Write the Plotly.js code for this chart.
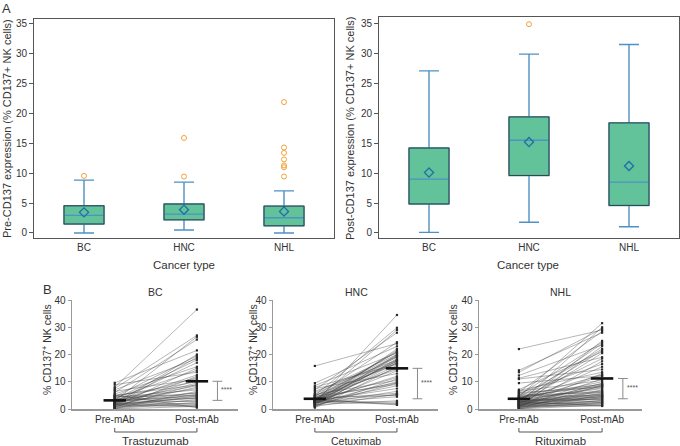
<!DOCTYPE html>
<html>
<head>
<meta charset="utf-8">
<script src="https://cdn.plot.ly/plotly-3.0.1.min.js"></script>
<style>
	html, body { margin:0; padding:0; background:#fff; }
	#chart { width:680px; height:446px; }
</style>
</head>
<body>
<div id="chart"></div>
<script>
(function () {

	'use strict';

	const cancerTypes = ['BC', 'HNC', 'NHL'];

	/**
	* Panel A - box stats
	*/
	const preQ1 = [1.5, 2.2, 1.2];
	const preMedian = [2.95, 3.15, 2.55];
	const preQ3 = [4.55, 4.85, 4.5];
	const preLow = [0, 0.5, 0];
	const preHigh = [8.85, 8.5, 7.05];
	const preMean = [3.45, 3.9, 3.6];
	const preOutliers = [
		[9.55],
		[9.45, 15.9],
		[9.45, 11.0, 11.3, 12.3, 13.4, 14.3, 21.9],
	];

	const postQ1 = [4.85, 9.6, 4.6];
	const postMedian = [9.0, 15.5, 8.5];
	const postQ3 = [14.2, 19.4, 18.4];
	const postLow = [0.1, 1.8, 1.05];
	const postHigh = [27.1, 29.9, 31.5];
	const postMean = [10.1, 15.2, 11.2];
	const postOutliers = [
		[],
		[34.9],
		[],
	];

	/**
	* Panel B - paired patients (pre / post mAb)
	*/
	const bcPost = [36.5, 27.0, 26.5, 25.5, 21.5, 20.0, 19.5, 19.0, 18.5, 18.0, 17.0, 15.5, 15.0, 14.2, 13.5, 12.5, 12.0, 11.5, 11.0, 10.5, 10.0, 9.5, 9.0, 8.8, 8.5, 8.0, 7.5, 7.0, 6.5, 6.0, 5.8, 5.5, 5.0, 5.0, 4.8, 4.5, 4.2, 4.0, 3.5, 3.0, 2.8, 2.5, 2.0, 1.8, 1.5, 1.2, 1.0, 0.8, 0.5, 3.8];
	const bcPre = [8.0, 7.5, 3.0, 6.0, 9.6, 2.0, 4.5, 1.5, 7.0, 3.6, 2.8, 5.5, 1.2, 4.0, 8.9, 2.4, 0.5, 3.3, 6.5, 1.8, 4.8, 2.2, 0.9, 5.0, 3.2, 1.4, 2.9, 4.3, 0.2, 2.5, 3.8, 1.0, 4.6, 2.7, 0.6, 3.5, 1.6, 2.0, 0.3, 1.9, 3.0, 0.1, 1.3, 2.3, 0.8, 1.7, 0.0, 1.5, 5.2, 3.4];

	const hncPost = [34.5, 29.8, 29.0, 28.0, 24.5, 24.0, 23.0, 22.0, 21.0, 20.0, 21.5, 21.0, 20.5, 20.0, 19.5, 19.4, 19.2, 19.0, 18.5, 18.0, 18.0, 17.8, 17.5, 17.0, 16.5, 17.5, 17.0, 16.5, 16.0, 15.5, 15.0, 14.5, 14.0, 13.0, 12.0, 11.5, 11.0, 10.5, 10.0, 9.6, 9.5, 9.0, 8.5, 7.5, 6.5, 5.8, 5.5, 5.2, 5.0, 4.5, 3.0, 2.5, 2.0, 1.8, 1.5];
	const hncPre = [2.2, 5.0, 3.0, 7.0, 4.5, 15.8, 9.5, 1.8, 3.5, 6.0, 2.6, 4.0, 8.6, 1.3, 3.2, 5.5, 2.0, 4.8, 0.8, 3.8, 6.5, 2.4, 3.6, 1.5, 4.9, 2.8, 3.4, 8.0, 2.1, 0.5, 3.3, 4.3, 1.9, 7.5, 2.7, 3.1, 1.0, 5.3, 2.2, 3.9, 1.2, 4.6, 2.5, 3.0, 1.7, 3.5, 0.9, 2.9, 4.2, 2.3, 1.6, 2.8, 3.2, 2.5, 3.6];

	const nhlPost = [31.5, 30.0, 29.5, 29.0, 28.5, 28.0, 25.0, 24.5, 24.0, 23.5, 23.0, 22.0, 21.5, 21.0, 20.5, 19.0, 18.5, 17.5, 16.5, 15.5, 14.5, 13.5, 13.0, 12.5, 12.2, 12.0, 11.0, 10.5, 10.0, 9.5, 9.0, 8.8, 8.6, 8.5, 8.4, 8.0, 7.5, 7.0, 6.8, 6.5, 6.2, 6.0, 5.8, 5.5, 5.2, 5.0, 4.8, 4.6, 4.5, 4.2, 4.0, 3.8, 3.5, 3.2, 3.0, 2.8, 2.5, 2.2, 2.0, 1.8, 1.5, 1.3, 1.1, 9.2, 7.8, 1.2, 2.4, 3.4, 4.4, 5.4];
	const nhlPre = [4.5, 2.0, 13.5, 22.0, 6.2, 14.2, 1.3, 5.0, 3.0, 12.3, 0.7, 4.3, 2.6, 7.1, 1.5, 11.3, 3.5, 0.4, 5.8, 2.2, 11.0, 6.8, 1.2, 4.0, 9.5, 2.8, 0.9, 6.5, 3.8, 1.1, 5.5, 2.4, 0.2, 4.6, 1.9, 6.0, 3.2, 1.6, 0.5, 4.5, 2.7, 5.2, 1.0, 3.1, 0.0, 2.5, 4.8, 1.4, 2.9, 0.6, 2.1, 1.8, 3.6, 0.3, 1.3, 2.3, 0.1, 1.7, 0.8, 1.2, 0.0, 2.6, 0.8, 4.1, 3.3, 1.5, 1.9, 2.9, 2.4, 2.6];

	const groupsB = [
		{ name: 'BC', mAb: 'Trastuzumab', pre: bcPre, post: bcPost },
		{ name: 'HNC', mAb: 'Cetuximab', pre: hncPre, post: hncPost },
		{ name: 'NHL', mAb: 'Rituximab', pre: nhlPre, post: nhlPost },
	];

	/**
	* Helpers - pixel -> paper
	*/
	const W = 680, H = 446;
	const px = ( v ) => v / W;
	const py = ( v ) => 1 - v / H;
	const mean = ( arr ) => arr.reduce(( a, b ) => a + b, 0 ) / arr.length;

	const font = 'Liberation Sans, Arial, Helvetica, sans-serif';
	const textCol = '#333';
	const boxFill = '#62c39a';
	const boxEdge = '#2f4a3c';
	const whiskerCol = '#4f91c3';
	const diamondCol = '#1f6fa8';
	const outlierCol = '#f2a23c';

	const data = [];
	const shapes = [];
	const annotations = [];

	/**
	* Panel A boxes
	*/
	const buildBoxPanel = ( n, q1, med, q3, lo, hi, means, outliers ) => {
		const xa = n === 1 ? 'x' : 'x' + n;
		const ya = n === 1 ? 'y' : 'y' + n;
		const xs = cancerTypes.map(( c, i ) => i );

		data.push({
			type: 'box',
			x: xs,
			q1: q1,
			median: med,
			q3: q3,
			lowerfence: lo,
			upperfence: hi,
			width: 0.4,
			whiskerwidth: 0.5,
			fillcolor: boxFill,
			line: { color: whiskerCol, width: 1.4 },
			boxpoints: false,
			hoverinfo: 'skip',
			showlegend: false,
			xaxis: xa, yaxis: ya,
		});

		// dark outline round the boxes
		xs.forEach(( x, i ) => {
			shapes.push({
				type: 'rect', xref: xa, yref: ya,
				x0: x - 0.2, x1: x + 0.2, y0: q1[i], y1: q3[i],
				line: { color: boxEdge, width: 1 },
				layer: 'above',
			});
		});

		// mean diamonds
		data.push({
			type: 'scatter', mode: 'markers',
			x: xs, y: means,
			marker: { symbol: 'diamond-open', size: 7, color: diamondCol, line: { width: 1.3, color: diamondCol }},
			showlegend: false, hoverinfo: 'skip',
			xaxis: xa, yaxis: ya,
		});

		// outliers
		const ox = [], oy = [];
		outliers.forEach(( list, i ) => list.forEach(( v ) => { ox.push( i ); oy.push( v ); }));
		data.push({
			type: 'scatter', mode: 'markers',
			x: ox, y: oy,
			marker: { symbol: 'circle-open', size: 5, color: outlierCol, line: { width: 1, color: outlierCol }},
			showlegend: false, hoverinfo: 'skip',
			xaxis: xa, yaxis: ya,
		});
	};

	buildBoxPanel( 1, preQ1, preMedian, preQ3, preLow, preHigh, preMean, preOutliers );
	buildBoxPanel( 2, postQ1, postMedian, postQ3, postLow, postHigh, postMean, postOutliers );

	/**
	* Panel B paired lines
	*/
	const sigX = 1.25;

	groupsB.forEach(( g, k ) => {
		const n = k + 3;
		const xa = 'x' + n, ya = 'y' + n;

		const lx = [], ly = [];
		g.pre.forEach(( v, i ) => {
			lx.push( 0, 1, null );
			ly.push( v, g.post[i], null );
		});

		data.push({
			type: 'scatter', mode: 'lines',
			x: lx, y: ly,
			line: { color: 'rgba(60,60,60,0.42)', width: 0.9 },
			showlegend: false, hoverinfo: 'skip', cliponaxis: false,
			xaxis: xa, yaxis: ya,
		});

		data.push({
			type: 'scatter', mode: 'markers',
			x: g.pre.map(() => 0 ).concat( g.post.map(() => 1 )),
			y: g.pre.concat( g.post ),
			marker: { size: 2.2, color: '#2a2a2a', symbol: 'square' },
			showlegend: false, hoverinfo: 'skip', cliponaxis: false,
			xaxis: xa, yaxis: ya,
		});

		const mPre = mean( g.pre ), mPost = mean( g.post );

		// mean bars
		data.push({
			type: 'scatter', mode: 'markers',
			x: [0, 1], y: [mPre, mPost],
			marker: { symbol: 'line-ew-open', size: 16, color: '#111', line: { width: 2.6, color: '#111' }},
			showlegend: false, hoverinfo: 'skip', cliponaxis: false,
			xaxis: xa, yaxis: ya,
		});

		// significance bar
		data.push({
			type: 'scatter', mode: 'lines+markers',
			x: [sigX, sigX], y: [mPre, mPost],
			line: { color: '#8a8a8a', width: 1 },
			marker: { symbol: 'line-ew-open', size: 7, color: '#8a8a8a', line: { width: 1, color: '#8a8a8a' }},
			showlegend: false, hoverinfo: 'skip', cliponaxis: false,
			xaxis: xa, yaxis: ya,
		});

		annotations.push({
			xref: xa, yref: ya, x: sigX, y: ( mPre + mPost ) / 2,
			xanchor: 'left', xshift: 2, yshift: 1, showarrow: false,
			text: '****', font: { family: font, size: 7, color: '#555' },
		});

		// bracket under the axis
		shapes.push({
			type: 'path', xref: xa, yref: 'paper',
			path: `M 0 ${py( 428 )} L 0 ${py( 432 )} L 1 ${py( 432 )} L 1 ${py( 428 )}`,
			line: { color: '#555', width: 1 },
		});
	});

	/**
	* Axes
	*/
	const axisA = ( domain, range, isX, anchor ) => Object.assign({
		domain: domain,
		range: range,
		showline: true,
		mirror: true,
		linecolor: '#555',
		linewidth: 1,
		showgrid: false,
		zeroline: false,
		anchor: anchor,
		tickfont: { family: font, size: 10, color: textCol },
	}, isX ? { tickvals: [0, 1, 2], ticktext: cancerTypes, ticks: '' }
		: { tickvals: [0, 5, 10, 15, 20, 25, 30, 35], ticks: 'outside', ticklen: 4, tickcolor: '#555' });

	const axisB = ( domain, range, isX, anchor ) => Object.assign({
		domain: domain,
		range: range,
		showline: true,
		linecolor: '#9a9a9a',
		linewidth: 1.5,
		showgrid: false,
		zeroline: false,
		anchor: anchor,
		tickfont: { family: font, size: 10, color: textCol },
	}, isX ? { tickvals: [0, 1], ticktext: ['Pre-mAb', 'Post-mAb'], ticks: '' }
		: { tickvals: [0, 10, 20, 30, 40], ticks: 'outside', ticklen: 3, tickcolor: '#9a9a9a' });

	const yDomA = [py( 238 ), py( 19 )];
	const yDomA2 = [py( 238 ), py( 17 )];
	const yDomB = [py( 409 ), py( 300 )];

	/**
	* Text labels
	*/
	const label = ( text, x, y, size, extra ) => annotations.push( Object.assign({
		xref: 'paper', yref: 'paper', x: px( x ), y: py( y ),
		xanchor: 'center', yanchor: 'middle', showarrow: false,
		text: text, font: { family: font, size: size, color: textCol },
	}, extra || {}));

	label( 'A', 6, 9, 13 );
	label( 'B', 47, 289, 13 );
	label( 'Pre-CD137 expression (% CD137+ NK cells)', 7, 129, 11, { textangle: -90 });
	label( 'Post-CD137 expression (% CD137+ NK cells)', 350, 128, 11, { textangle: -90 });
	label( 'Cancer type', 184, 265, 11.5 );
	label( 'Cancer type', 528, 265, 11.5 );

	const titleX = [155, 356, 560];
	const yTitleX = [46, 252, 452];
	groupsB.forEach(( g, k ) => {
		label( g.name, titleX[k], 292, 10.5 );
		label( g.mAb, titleX[k], 441, k === 1 ? 10.5 : 11.5 );
		label( '% CD137<sup>+</sup> NK cells', yTitleX[k], 350, 10.5, { textangle: -90 });
	});

	const layout = {
		width: W,
		height: H,
		margin: { l: 0, r: 0, t: 0, b: 0 },
		paper_bgcolor: '#fff',
		plot_bgcolor: 'rgba(0,0,0,0)',
		font: { family: font, color: textCol },
		showlegend: false,

		xaxis: axisA( [px( 34 ), px( 334 )], [-0.5, 2.5], true, 'y' ),
		yaxis: axisA( yDomA, [-0.84, 35.8], false, 'x' ),
		xaxis2: axisA( [px( 379 ), px( 679 )], [-0.5, 2.5], true, 'y2' ),
		yaxis2: axisA( yDomA2, [-0.84, 36.1], false, 'x2' ),

		xaxis3: axisB( [px( 72 ), px( 238 )], [-0.52, 1.5], true, 'y3' ),
		yaxis3: axisB( yDomB, [0, 40], false, 'x3' ),
		xaxis4: axisB( [px( 273 ), px( 438 )], [-0.51, 1.5], true, 'y4' ),
		yaxis4: axisB( yDomB, [0, 40], false, 'x4' ),
		xaxis5: axisB( [px( 479 ), px( 642 )], [-0.48, 1.48], true, 'y5' ),
		yaxis5: axisB( yDomB, [0, 40], false, 'x5' ),

		shapes: shapes,
		annotations: annotations,
	};

	Plotly.newPlot( 'chart', data, layout, { displayModeBar: false, staticPlot: true });

})();
</script>
</body>
</html>
